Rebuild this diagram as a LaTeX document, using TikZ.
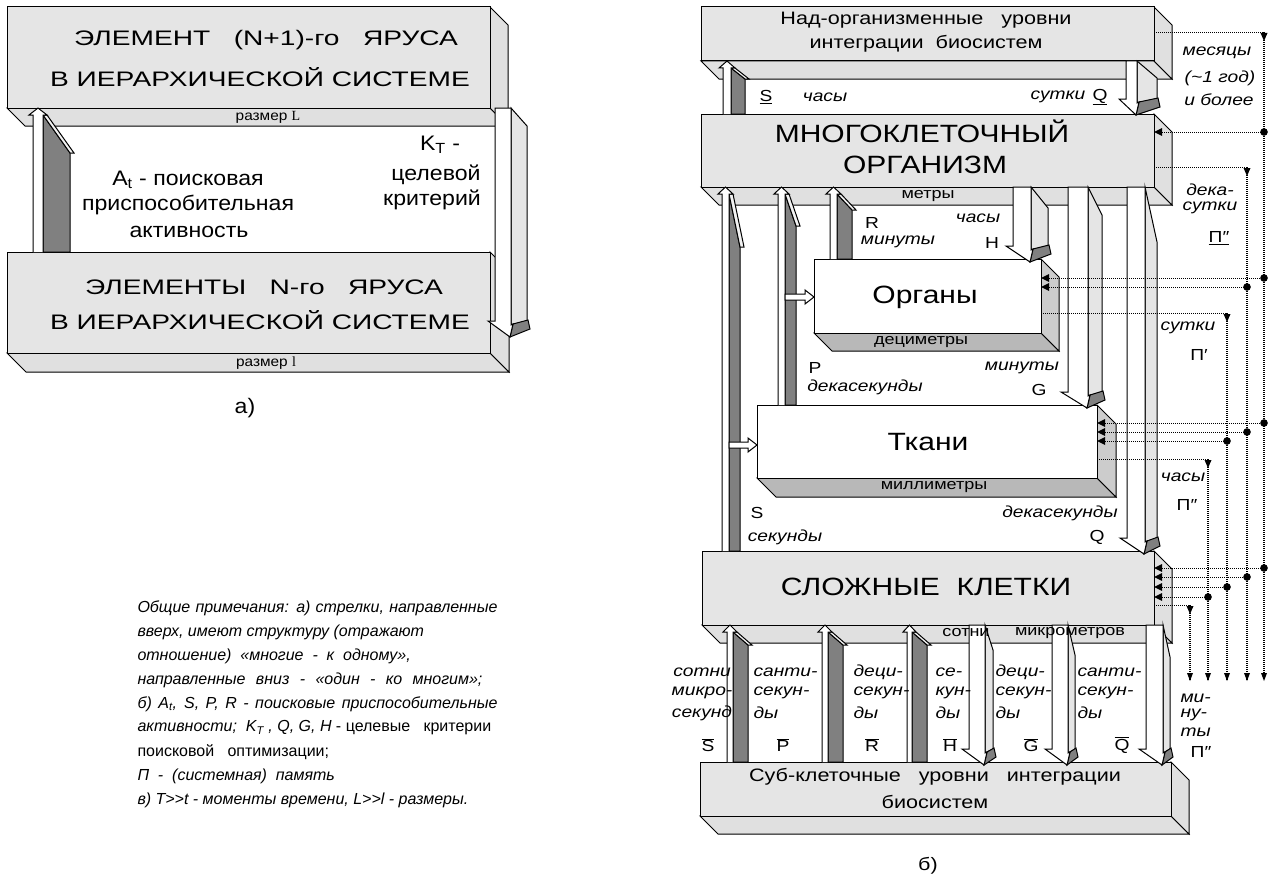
\documentclass[tikz,border=0pt]{standalone}
\usepackage{fontspec}
\setmainfont{Liberation Sans}
\newfontfamily\fa{Liberation Sans}[FakeStretch=1.34]
\newfontfamily\fl{Liberation Sans}[FakeStretch=1.1]
\newfontfamily\fb{Liberation Sans}[FakeStretch=1.2]
\newfontfamily\fn{Liberation Sans}
\newfontfamily\fser{Liberation Serif}
\definecolor{boxg}{gray}{0.9}
\definecolor{boxs}{gray}{0.88}
\definecolor{orgs}{gray}{0.8}
\definecolor{orgb}{gray}{0.72}
\definecolor{upg}{gray}{0.5}
\definecolor{stripc}{gray}{0.95}
\definecolor{dnside}{gray}{0.9}
\definecolor{dnhead}{gray}{0.5}
% 3D box: x1 y1 x2 y2 depth front side bottom
\newcommand{\boxtd}[8]{%
 \filldraw[fill=#8] (#1,#4) -- (#3,#4) -- ({#3+#5},{#4+#5}) -- ({#1+#5},{#4+#5}) -- cycle;
 \filldraw[fill=#7] (#3,#2) -- ({#3+#5},{#2+#5}) -- ({#3+#5},{#4+#5}) -- (#3,#4) -- cycle;
 \filldraw[fill=#6] (#1,#2) rectangle (#3,#4);}
% up arrow: xl xr xg ytip ybot yslant
\newcommand{\uparw}[6]{%
 \filldraw[fill=upg] (#2,{#4+7}) -- (#3,#6) -- (#3,#5) -- (#2,#5) -- cycle;
 \filldraw[fill=stripc] (#2,{#4+7}) -- ({#2+4},{#4+7}) -- ({#3+4},#6) -- (#3,#6) -- cycle;
 \filldraw[fill=white] (#1,#5) -- (#1,{#4+7}) -- ({#1-4},{#4+7}) -- ({(#1+#2)/2},#4) -- ({#2+4},{#4+7}) -- (#2,{#4+7}) -- (#2,#5);}
% down arrow: xl xr xs ytop ytip yslant
\newcommand{\dnarw}[6]{%
 \filldraw[fill=dnside] (#2,#4) -- (#3,#6) -- (#3,{#5-16}) -- (#2,{#5-12}) -- cycle;
 \filldraw[fill=dnhead] ({#2-1},#5) -- ({#2+2},{#5-13}) -- ({#3+1},{#5-17}) -- ({#3+3},{#5-8}) -- cycle;
 \filldraw[fill=white] (#1,#4) -- (#2,#4) -- (#2,{#5-12}) -- ({#2+2},{#5-13}) -- ({#2-1},#5) -- ({#1-7},{#5-16}) -- (#1,{#5-16}) -- cycle;}
% branch arrow: x1 x2 y
\newcommand{\brarw}[3]{%
 \filldraw[fill=white] (#1,{#3-3}) -- ({#2-9},{#3-3}) -- ({#2-9},{#3-7}) -- (#2,#3) -- ({#2-9},{#3+7}) -- ({#2-9},{#3+3}) -- (#1,{#3+3}) -- cycle;}
% memory lines
\newcommand{\memin}[3]{%
 \draw[hdot] (#1,#2) -- (#3,#2);
 \fill (#1,#2) -- ({#1+8},{#2-4}) -- ({#1+8},{#2+4}) -- cycle;
 \fill (#3,#2) circle (3.8);}
\newcommand{\memout}[3]{%
 \draw[hdot] (#1,#2) -- (#3,#2);
 \draw[vdot] (#3,#2) -- (#3,680);
 \fill ({#3-3.5},{#2+1}) -- ({#3+3.5},{#2+1}) -- (#3,{#2+9}) -- cycle;
 \fill ({#3-3},673) -- ({#3+3},673) -- (#3,681) -- cycle;}
\newcommand{\ovl}[1]{\ensuremath{\overline{\mbox{#1}}}}
\begin{document}
\begin{tikzpicture}[x=1pt,y=-1pt,line width=1pt,
 bA/.style={font=\fa\fontsize{21}{25}\selectfont,inner sep=0pt},
 lA/.style={font=\fl\fontsize{21}{25}\selectfont,inner sep=0pt},
 sz/.style={font=\fl\fontsize{14}{16}\selectfont,inner sep=0pt},
 tS/.style={font=\fb\fontsize{18}{21}\selectfont,inner sep=0pt},
 tB/.style={font=\fb\fontsize{25}{29}\selectfont,inner sep=0pt},
 tM/.style={font=\fb\fontsize{15}{17}\selectfont,inner sep=0pt},
 lb/.style={font=\fb\fontsize{16}{18}\selectfont,inner sep=0pt},
 li/.style={font=\fb\itshape\fontsize{16}{18}\selectfont,inner sep=0pt},
 nt/.style={font=\fn\itshape\fontsize{16}{19}\selectfont,inner sep=0pt,anchor=west},
 hdot/.style={line width=0.9pt,dash pattern=on 1pt off 1pt},
 vdot/.style={line width=2pt,dash pattern=on 1pt off 1pt}]
\useasboundingbox (0,0) rectangle (1271,883);
\fill[white] (0,0) rectangle (1271,883);

% ================= a) =================
\boxtd{7}{7}{490}{108}{18}{boxg}{boxs}{boxs}
\boxtd{7}{252}{490}{353}{19}{boxg}{boxs}{boxs}
\uparw{33}{43}{70}{108}{252}{153}
\dnarw{495}{511}{527}{108}{337}{126}
\node[bA] (a1) at (266,40) {ЭЛЕМЕНТ\ \ \ (N+1)-го\ \ \ ЯРУСА};
\node[bA] (a2) at (260,77) {В ИЕРАРХИЧЕСКОЙ СИСТЕМЕ};
\node[sz] (a3) at (268,117) {размер {\fser L}};
\node[bA] (a4) at (264,287) {ЭЛЕМЕНТЫ\ \ \ N-го\ \ \ ЯРУСА};
\node[bA] (a5) at (260,320) {В ИЕРАРХИЧЕСКОЙ СИСТЕМЕ};
\node[sz] (a6) at (266,363) {размер {\fser l}};
\node[lA] (a7) at (188,180) {A\textsubscript{t} - поисковая};
\node[lA] (a8) at (188,205) {приспособительная};
\node[lA] (a9) at (189,232) {активность};
\node[lA] (a10) at (440,145) {K\textsubscript{T} -};
\node[lA] (a11) at (436,175) {целевой};
\node[lA] (a12) at (432,200) {критерий};
\node[lA] (a13) at (245,408) {а)};

% notes
\node[nt] (n1) at (137,608) {\makebox[360pt][s]{Общие примечания: а) стрелки, направленные}};
\node[nt] (n2) at (137,632) {вверх, имеют структуру (отражают};
\node[nt] (n3) at (137,656) {отношение)\ \ «многие\ \ -\ \ к\ \ одному»,};
\node[nt] (n4) at (137,680) {\makebox[345pt][s]{направленные вниз - «один - ко многим»;}};
\node[nt] (n5) at (137,704) {\makebox[360pt][s]{б) A\textsubscript{t}, S, P, R - поисковые приспособительные}};
\node[nt] (n6) at (137,728) {активности;\ \ K\textsubscript{T} , Q, G, H\upshape\ - целевые\ \ \ критерии};
\node[nt] (n7) at (137,752) {\upshape поисковой\ \ \ оптимизации;};
\node[nt] (n8) at (137,776) {П\ \ -\ \ (системная)\ \ память};
\node[nt] (n9) at (137,800) {в) T>>t - моменты времени, L>>l - размеры.};

% ================= b) =================
\boxtd{701}{7}{1154}{61}{18}{boxg}{boxs}{boxs}
\boxtd{701}{114}{1154}{187}{18}{boxg}{boxs}{boxs}
\boxtd{814}{259}{1041}{333}{18}{white}{orgs}{orgb}
\boxtd{757}{405}{1097}{478}{19}{white}{orgs}{orgb}
\boxtd{702}{551}{1154}{625}{18}{boxg}{boxs}{boxs}
\boxtd{700}{762}{1171}{816}{18}{boxg}{boxs}{boxs}

% arrows top
\uparw{723}{731}{745}{61}{114}{79}
\dnarw{1126}{1137}{1157}{61}{115}{78}
% arrows middle
\uparw{722}{729}{740}{187}{551}{247}
\uparw{778}{785}{796}{187}{405}{226}
\uparw{830}{837}{852}{187}{259}{210}
\brarw{729}{757}{445}
\brarw{785}{814}{297}
\dnarw{1013}{1031}{1048}{187}{262}{208}
\dnarw{1068}{1088}{1102}{187}{408}{215}
\dnarw{1127}{1145}{1157}{187}{554}{242}
% arrows bottom
\uparw{727}{733}{748}{625}{762}{645}
\uparw{822}{828}{843}{625}{762}{645}
\uparw{907}{912}{927}{625}{762}{645}
\dnarw{969}{985}{993}{625}{765}{650}
\dnarw{1052}{1068}{1075}{625}{765}{655}
\dnarw{1146}{1163}{1170}{625}{765}{657}

% box texts
\node[tS] (b1) at (926,20) {Над-организменные\ \ \ уровни};
\node[tS] (b2) at (926,44) {интеграции\ \ биосистем};
\node[tB] (b3) at (922,131) {МНОГОКЛЕТОЧНЫЙ};
\node[tB] (b4) at (925,165) {ОРГАНИЗМ};
\node[tM] (b5) at (928,196) {метры};
\node[tB] (b6) at (925,297) {Органы};
\node[tM] (b7) at (921,342) {дециметры};
\node[tB] (b8) at (928,442) {Ткани};
\node[tM] (b9) at (934,487) {миллиметры};
\node[tB] (b10) at (926,587) {СЛОЖНЫЕ\ \ КЛЕТКИ};
\node[tM] (b11) at (966,633) {сотни};
\node[tM] (b12) at (1070,633) {микрометров};
\node[tS] (b13) at (935,777) {Суб-клеточные\ \ \ уровни\ \ \ интеграции};
\node[tS] (b14) at (935,802) {биосистем};
\node[tS] (b15) at (928,866) {б)};

% arrow labels
\node[lb] (c1) at (766,97) {\underline{S}};
\node[li] (c2) at (825,97) {часы};
\node[li] (c3) at (1058,97) {сутки};
\node[lb] (c4) at (1100,97) {\underline{Q}};
\node[lb] (c5) at (872,223) {R};
\node[li] (c6) at (898,242) {минуты};
\node[li] (c7) at (978,218) {часы};
\node[lb] (c8) at (992,243) {H};
\node[lb] (c9) at (815,368) {P};
\node[li] (c10) at (865,387) {декасекунды};
\node[li] (c11) at (1022,368) {минуты};
\node[lb] (c12) at (1039,390) {G};
\node[lb] (c13) at (757,513) {S};
\node[li] (c14) at (785,537) {секунды};
\node[li] (c15) at (1060,513) {декасекунды};
\node[lb] (c16) at (1097,537) {Q};

% bottom labels
\node[li] (d1) at (702,672) {сотни};
\node[li] (d2) at (702,693) {микро-};
\node[li] (d3) at (702,713) {секунд};
\node[lb] (d4) at (708,745) {\ovl{S}};
\node[li,anchor=west] (d5) at (753,672) {санти-};
\node[li,anchor=west] (d6) at (753,693) {секун-};
\node[li,anchor=west] (d7) at (753,713) {ды};
\node[lb] (d8) at (783,745) {\ovl{P}};
\node[li,anchor=west] (d9) at (853,672) {деци-};
\node[li,anchor=west] (d10) at (853,693) {секун-};
\node[li,anchor=west] (d11) at (853,713) {ды};
\node[lb] (d12) at (872,745) {\ovl{R}};
\node[li,anchor=west] (d13) at (935,672) {се-};
\node[li,anchor=west] (d14) at (935,693) {кун-};
\node[li,anchor=west] (d15) at (935,713) {ды};
\node[lb] (d16) at (950,745) {\ovl{H}};
\node[li,anchor=west] (d17) at (995,672) {деци-};
\node[li,anchor=west] (d18) at (995,693) {секун-};
\node[li,anchor=west] (d19) at (995,713) {ды};
\node[lb] (d20) at (1031,745) {\ovl{G}};
\node[li,anchor=west] (d21) at (1077,672) {санти-};
\node[li,anchor=west] (d22) at (1077,693) {секун-};
\node[li,anchor=west] (d23) at (1077,713) {ды};
\node[lb] (d24) at (1122,745) {\ovl{Q}};
\node[li,anchor=west] (d25) at (1180,698) {ми-};
\node[li,anchor=west] (d26) at (1180,715) {ну-};
\node[li,anchor=west] (d27) at (1180,732) {ты};
\node[lb] (d28) at (1201,752) {П″};

% memory labels
\node[li] (e1) at (1217,53) {месяцы};
\node[li] (e2) at (1220,78) {(\textasciitilde 1 год)};
\node[li] (e3) at (1219,100) {и более};
\node[li] (e4) at (1210,190) {дека-};
\node[li] (e5) at (1210,208) {сутки};
\node[lb] (e6) at (1219,238) {\underline{П″}};
\node[li] (e7) at (1188,328) {сутки};
\node[lb] (e8) at (1199,355) {П′};
\node[li] (e9) at (1183,477) {часы};
\node[lb] (e10) at (1187,505) {П″};

% memory lines
\memout{1154}{32}{1264}
\memin{1154}{132}{1264}
\memout{1154}{167}{1247}
\memin{1041}{278}{1264}
\memin{1041}{287}{1247}
\memout{1041}{313}{1227}
\memin{1097}{423}{1264}
\memin{1097}{432}{1247}
\memin{1097}{441}{1227}
\memout{1097}{459}{1208}
\memin{1154}{568}{1264}
\memin{1154}{577}{1247}
\memin{1154}{587}{1227}
\memin{1154}{597}{1208}
\memout{1154}{605}{1190}
\end{tikzpicture}
\end{document}
